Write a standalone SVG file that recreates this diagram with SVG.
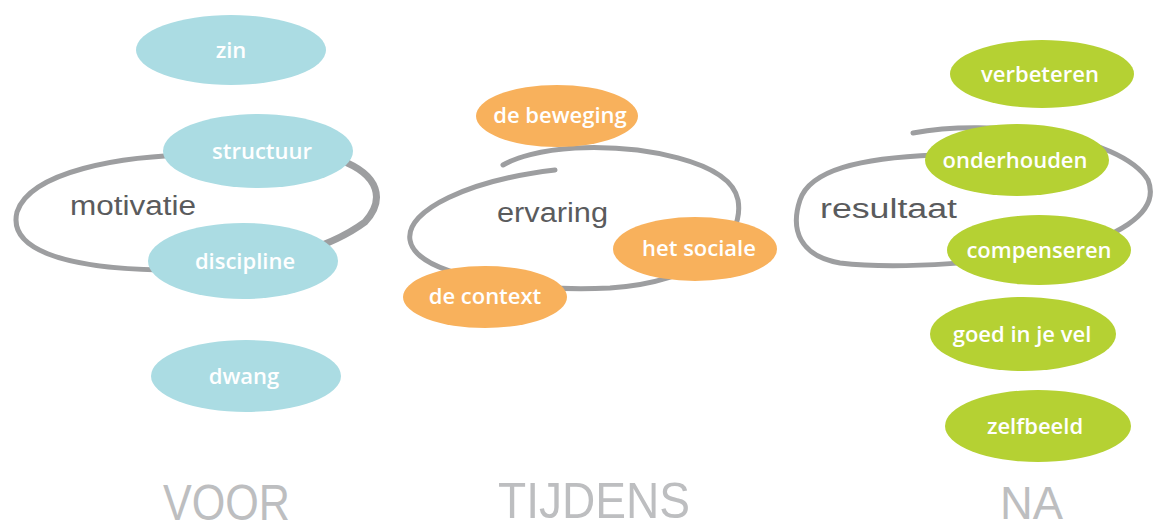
<svg xmlns="http://www.w3.org/2000/svg" width="1158" height="531" viewBox="0 0 1158 531">
<style>
.loop{fill:none;stroke:#9d9ea0;stroke-width:5;stroke-linecap:round}
.blue{fill:#abdce3}
.orange{fill:#f8b15c}
.green{fill:#b5d133}
.lbl{font-family:"Open Sans","Liberation Sans",sans-serif;font-weight:600;font-size:22px;fill:#ffffff;text-anchor:middle}
.hand{font-family:"Liberation Sans",sans-serif;font-size:27px;fill:#5a5b5d}
.head{font-family:"Liberation Sans",sans-serif;font-size:50px;fill:#bdbec0}
</style>
<rect width="1158" height="531" fill="#ffffff"/>
<g id="connectors">
<path class="loop" d="M 200 155 C 120 155, 30 172, 17 212 C 8 248, 60 268, 160 270"/>
<path class="loop" d="M 160 270 C 260 272, 330 248, 365 222 C 385 200, 380 175, 340 160" style="stroke-width:7"/>
<path class="loop" d="M 555 170 C 470 180, 405 210, 410 240 C 415 275, 520 292, 610 288 C 700 282, 745 240, 738 200 C 730 160, 640 145, 575 148 C 540 150, 515 158, 503 165"/>
<path class="loop" d="M 913 133 C 990 118, 1120 135, 1148 180 C 1162 215, 1110 240, 1060 250 C 1000 262, 900 270, 840 263 C 800 256, 790 230, 800 200 C 810 170, 860 158, 935 155"/>
</g>
<g id="labels-center">
<text class="hand" x="70" y="215" textLength="126" lengthAdjust="spacingAndGlyphs">motivatie</text>
<text class="hand" x="497" y="222" textLength="111" lengthAdjust="spacingAndGlyphs">ervaring</text>
<text class="hand" x="820" y="218" textLength="137" lengthAdjust="spacingAndGlyphs">resultaat</text>
</g>
<g id="zin"><ellipse class="blue" cx="231" cy="50" rx="95" ry="35"/><text class="lbl" x="231" y="58">zin</text></g>
<g id="structuur"><ellipse class="blue" cx="258" cy="151" rx="95" ry="37"/><text class="lbl" x="262" y="159">structuur</text></g>
<g id="discipline"><ellipse class="blue" cx="243" cy="261" rx="95" ry="38"/><text class="lbl" x="245" y="269">discipline</text></g>
<g id="dwang"><ellipse class="blue" cx="246" cy="376" rx="95" ry="36"/><text class="lbl" x="244" y="384">dwang</text></g>
<g id="de-beweging"><ellipse class="orange" cx="557" cy="116" rx="81" ry="31"/><text class="lbl" x="560" y="123">de beweging</text></g>
<g id="het-sociale"><ellipse class="orange" cx="695" cy="249" rx="82" ry="32"/><text class="lbl" x="699" y="256">het sociale</text></g>
<g id="de-context"><ellipse class="orange" cx="485" cy="297" rx="82" ry="31"/><text class="lbl" x="485" y="304">de context</text></g>
<g id="verbeteren"><ellipse class="green" cx="1042" cy="74" rx="92" ry="34"/><text class="lbl" x="1040" y="82">verbeteren</text></g>
<g id="onderhouden"><ellipse class="green" cx="1017" cy="160" rx="92" ry="36"/><text class="lbl" x="1015" y="168">onderhouden</text></g>
<g id="compenseren"><ellipse class="green" cx="1039" cy="250" rx="92" ry="35"/><text class="lbl" x="1039" y="258">compenseren</text></g>
<g id="goed-in-je-vel"><ellipse class="green" cx="1023" cy="334" rx="93" ry="37"/><text class="lbl" x="1022" y="342">goed in je vel</text></g>
<g id="zelfbeeld"><ellipse class="green" cx="1038" cy="426" rx="93" ry="36"/><text class="lbl" x="1035" y="434">zelfbeeld</text></g>
<g id="headings">
<text class="head" x="163" y="520" textLength="127" lengthAdjust="spacingAndGlyphs">VOOR</text>
<text class="head" x="498" y="518" textLength="192" lengthAdjust="spacingAndGlyphs">TIJDENS</text>
<text class="head" x="1000" y="519" textLength="63" lengthAdjust="spacingAndGlyphs" style="font-size:46px">NA</text>
</g>
</svg>
